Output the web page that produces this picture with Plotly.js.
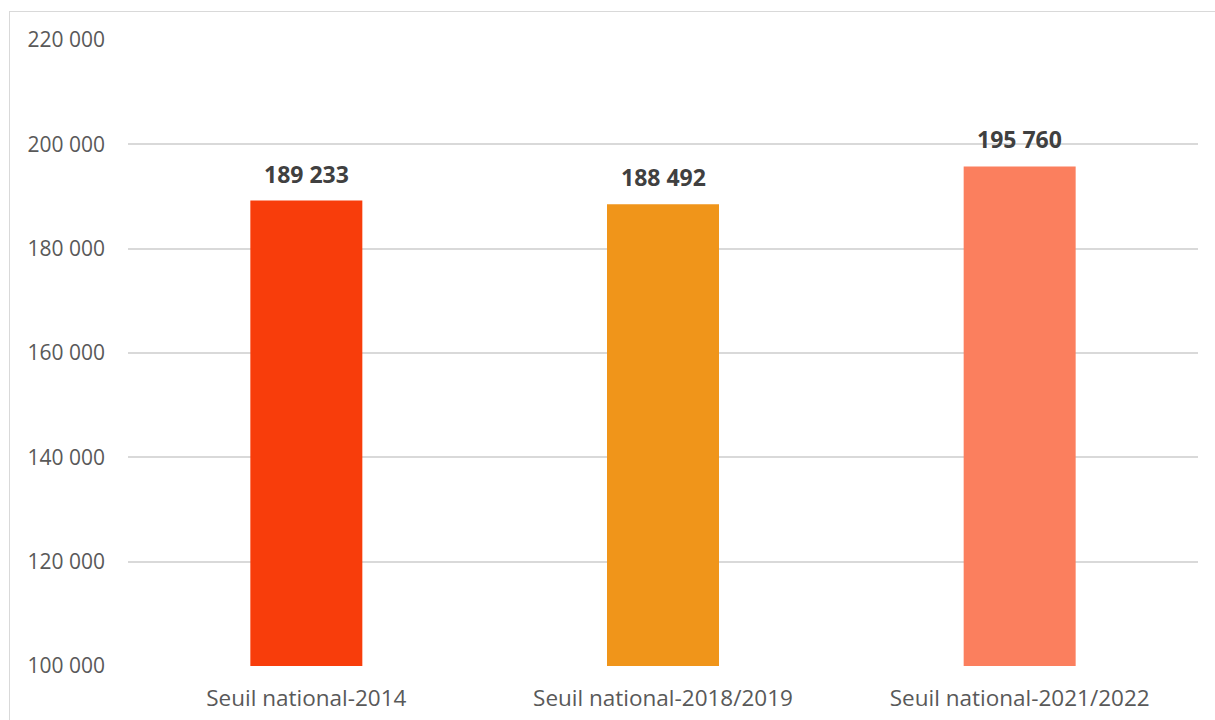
<!DOCTYPE html>
<html>
<head>
<meta charset="utf-8">
<script src="https://cdn.plot.ly/plotly-3.0.1.min.js"></script>
<style>
html,body{margin:0;padding:0;background:#fff;}
#wrap{position:relative;width:1215px;height:720px;overflow:hidden;}
#chart{position:absolute;left:0;top:0;width:1215px;height:720px;}
#frame{position:absolute;left:9px;top:11px;width:1230px;height:730px;border:1.5px solid #d9d9d9;pointer-events:none;}
</style>
</head>
<body>
<div id="wrap"><div id="chart"></div><div id="frame"></div></div>
<script>
const categories = ["Seuil national-2014", "Seuil national-2018/2019", "Seuil national-2021/2022"];
const values = [189233, 188492, 195760];
const valueLabels = ["189 233", "188 492", "195 760"];
const barColors = ["#F83D0B", "#F0951A", "#FB7F5E"];
const yTicks = [100000, 120000, 140000, 160000, 180000, 200000, 220000];

const trace = {
  type: "bar",
  x: categories,
  y: values,
  marker: {color: barColors},
  width: 0.314,
  hoverinfo: "skip"
};

const annotations = categories.map((c, i) => ({
  x: c, y: values[i], xref: "x", yref: "y",
  text: valueLabels[i], showarrow: false,
  yanchor: "bottom", yshift: 9,
  font: {family: "Open Sans, sans-serif", size: 23, color: "#404040", weight: 700}
}));

const layout = {
  width: 1215, height: 720,
  margin: {l: 128, r: 17, t: 40, b: 54},
  paper_bgcolor: "#ffffff", plot_bgcolor: "#ffffff",
  separators: ", ",
  showlegend: false,
  xaxis: {
    type: "category",
    showgrid: false, zeroline: false, showline: false,
    ticks: "", ticklen: 0,
    ticklabelstandoff: 16,
    tickfont: {family: "Open Sans, sans-serif", size: 22.5, color: "#595959"}
  },
  yaxis: {
    range: [100000, 220000],
    tickvals: yTicks,
    tickformat: ",d",
    showgrid: true, gridcolor: "#d9d9d9", gridwidth: 2,
    zeroline: false, showline: false, ticks: "",
    ticklabelstandoff: 22,
    tickfont: {family: "Open Sans, sans-serif", size: 21, color: "#595959"}
  },
  annotations: annotations
};

Plotly.newPlot("chart", [trace], layout, {displayModeBar: false, staticPlot: true});
</script>
</body>
</html>
